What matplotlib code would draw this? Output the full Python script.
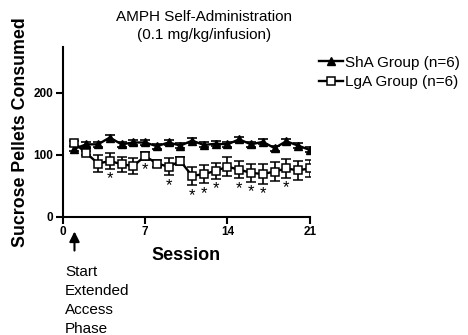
import matplotlib
matplotlib.use("Agg")
import matplotlib.pyplot as plt
from matplotlib.lines import Line2D
import numpy as np

plt.rcParams['font.family'] = ['Liberation Sans', 'DejaVu Sans']

sessions = list(range(1, 22))
sha_mean = [110, 117, 117, 128, 117, 120, 120, 114, 120, 115, 123, 116, 118, 117, 125, 117, 121, 111, 122, 115, 108]
sha_sem = [4, 4, 4, 4, 4, 4, 4, 4, 4, 4, 4, 4, 4, 4, 4, 4, 4, 4, 4, 4, 4]
lga_mean = [119, 103, 86, 90, 85, 82, 98, 86, 81, 90, 66, 69, 74, 81, 76, 71, 69, 73, 78, 75, 78]
lga_sem = [4, 4, 14, 13, 12, 13, 6, 6, 14, 6, 15, 15, 13, 15, 14, 15, 16, 15, 15, 15, 13]
sig_sessions = [4, 7, 9, 11, 12, 13, 15, 16, 17, 19]
xticks = [0, 7, 14, 21]
yticks = [0, 100, 200]

fig = plt.figure(figsize=(4.68, 3.35), dpi=100)
ax = fig.add_axes([0.134, 0.353, 0.528, 0.508])

ms = 5.8
ax.errorbar(sessions, sha_mean, yerr=sha_sem, color='black', marker='^', markersize=ms,
            linewidth=1.7, capsize=3.5, elinewidth=1.2, capthick=1.2,
            markerfacecolor='black', zorder=3)
ax.errorbar(sessions, lga_mean, yerr=lga_sem, color='black', marker='s', markersize=ms,
            linewidth=1.7, capsize=3.5, elinewidth=1.2, capthick=1.2,
            markerfacecolor='white', markeredgewidth=1.1, zorder=3)

for s in sig_sessions:
    i = sessions.index(s)
    ax.text(s, lga_mean[i] - lga_sem[i] - 4, '*', ha='center', va='top', fontsize=12)

ax.set_xlim(0, 21)
ax.set_ylim(0, 275)
ax.set_xticks(xticks)
ax.set_yticks(yticks)
ax.spines['top'].set_visible(False)
ax.spines['right'].set_visible(False)
for sp in ['left', 'bottom']:
    ax.spines[sp].set_linewidth(1.5)
ax.tick_params(direction='out', length=5, width=1.5, labelsize=8.5, pad=2)
for lab in ax.get_xticklabels() + ax.get_yticklabels():
    lab.set_fontweight('bold')

ax.set_xlabel('Session', fontsize=13, fontweight='bold', labelpad=6)
ax.set_ylabel('Sucrose Pellets Consumed', fontsize=12.8, fontweight='bold', labelpad=3)

fig.text(0.436, 1 - 17/335, 'AMPH Self-Administration', ha='center', va='center', fontsize=11)
fig.text(0.436, 1 - 35/335, '(0.1 mg/kg/infusion)', ha='center', va='center', fontsize=11)

ax.annotate('', xy=(1, -0.07), xycoords=('data', 'axes fraction'),
            xytext=(1, -0.215), textcoords=('data', 'axes fraction'),
            arrowprops=dict(arrowstyle='-|>', color='black', lw=1.5, mutation_scale=15),
            annotation_clip=False)
fig.text(65/468, 1 - 265/335, 'Start\nExtended\nAccess\nPhase', ha='left', va='top',
         fontsize=11, linespacing=1.45)

handles = [Line2D([], [], color='black', marker='^', markersize=ms, linewidth=1.7),
           Line2D([], [], color='black', marker='s', markersize=ms, linewidth=1.7,
                  markerfacecolor='white', markeredgewidth=1.1)]
labels = ['ShA Group (n=6)', 'LgA Group (n=6)']
fig.legend(handles, labels, loc='upper left', bbox_to_anchor=(0.668, 0.852),
           frameon=False, fontsize=11, handlelength=1.6, handletextpad=0.15,
           labelspacing=0.35, borderaxespad=0)

fig.savefig('out.png', dpi=100)
